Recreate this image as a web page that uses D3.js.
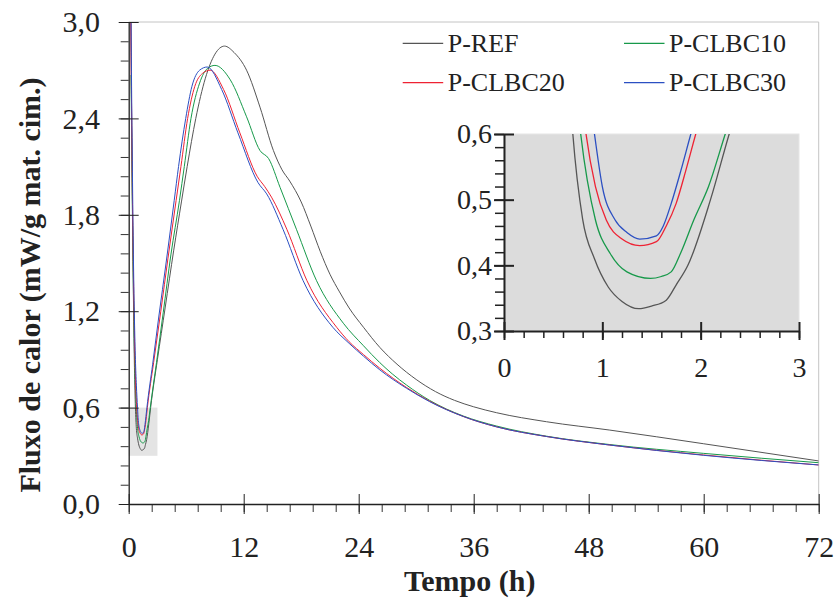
<!DOCTYPE html>
<html>
<head>
<meta charset="UTF-8">
<style>
  body { margin: 0; background: #fff; }
  svg { display: block; font-family: "Liberation Serif", serif; }
</style>
</head>
<body>
<svg id="chart" width="836" height="598"></svg>
<script src="https://d3js.org/d3.v7.min.js"></script>
<script>
// Fluxo de calor: [tempo (h), mW/g]
const refData = [[0.05, 4.5], [0.2, 3.2], [0.3, 2.45], [0.4, 1.8], [0.5, 1.25], [0.6, 0.85], [0.7, 0.6],
  [0.8, 0.47], [0.92, 0.41], [1.06, 0.367], [1.2, 0.345], [1.37, 0.334], [1.5, 0.338], [1.65, 0.347],
  [1.75, 0.37], [1.87, 0.40], [2.1, 0.50], [2.29, 0.60], [3.0, 0.9], [3.8, 1.22], [4.7, 1.58],
  [5.5, 1.88], [6.1, 2.1], [7.0, 2.4], [8.0, 2.65], [9.0, 2.8], [10.0, 2.85], [11.0, 2.81],
  [12.3, 2.7], [13.7, 2.47], [15.1, 2.2], [16.0, 2.08], [16.8, 2.01], [18.0, 1.88], [19.0, 1.73],
  [20.0, 1.57], [21.0, 1.43], [22.0, 1.32], [23.0, 1.22], [24.5, 1.1], [26.2, 0.975], [28.0, 0.87],
  [30.0, 0.775], [32.0, 0.70], [34.0, 0.645], [36.0, 0.605], [38.4, 0.568], [43.6, 0.512], [50.2, 0.46],
  [60, 0.375], [72, 0.268]];

const clbc10Data = [[0.24, 2.67], [0.32, 2.2], [0.4, 1.75], [0.5, 1.3], [0.6, 0.95], [0.7, 0.72],
  [0.78, 0.6], [0.93, 0.469], [1.08, 0.418], [1.25, 0.39], [1.49, 0.38], [1.6, 0.383], [1.7, 0.39],
  [1.8, 0.42], [1.93, 0.469], [2.08, 0.52], [2.25, 0.6], [2.9, 0.88], [3.6, 1.19], [4.4, 1.55],
  [5.3, 1.89], [5.8, 2.1], [6.5, 2.4], [7.4, 2.62], [8.2, 2.71], [9.0, 2.73], [10.6, 2.64],
  [12.3, 2.41], [13.7, 2.2], [14.6, 2.15], [15.8, 1.97], [17.5, 1.71], [19.6, 1.39], [22.4, 1.125],
  [24.5, 0.985], [26.2, 0.88], [27.5, 0.81], [29.0, 0.74], [31.4, 0.645], [34.9, 0.548], [38.4, 0.485],
  [43.6, 0.422], [50.2, 0.37], [60, 0.315], [72, 0.257]];

const clbc20Data = [[0.05, 4.5], [0.2, 3.2], [0.3, 2.45], [0.4, 1.85], [0.5, 1.4], [0.6, 1.05], [0.7, 0.8],
  [0.834, 0.6], [0.93, 0.52], [1.04, 0.469], [1.2, 0.44], [1.38, 0.43], [1.55, 0.436], [1.65, 0.46],
  [1.75, 0.494], [1.85, 0.545], [1.95, 0.6], [2.6, 0.88], [3.35, 1.2], [4.1, 1.53], [4.95, 1.89],
  [5.45, 2.1], [6.15, 2.4], [6.9, 2.6], [7.7, 2.68], [8.5, 2.7], [9.9, 2.58], [11.6, 2.31], [13.4, 2.04],
  [14.2, 1.975], [14.9, 1.91], [16.5, 1.71], [18.6, 1.39], [21.7, 1.1], [23.0, 1.01], [24.5, 0.93],
  [26.2, 0.845], [29.0, 0.725], [31.4, 0.64], [34.9, 0.545], [38.4, 0.48], [43.6, 0.42], [50.2, 0.367],
  [60, 0.305], [72, 0.243]];

const clbc30Data = [[0.05, 4.5], [0.2, 3.4], [0.3, 2.6], [0.4, 2.0], [0.5, 1.5], [0.6, 1.15], [0.7, 0.9],
  [0.8, 0.74], [0.92, 0.6], [1.0, 0.52], [1.13, 0.469], [1.25, 0.45], [1.38, 0.44], [1.55, 0.445],
  [1.62, 0.46], [1.7, 0.494], [1.8, 0.545], [1.9, 0.6], [2.5, 0.87], [3.15, 1.17], [3.9, 1.5],
  [4.75, 1.89], [5.2, 2.1], [5.95, 2.4], [6.6, 2.6], [7.4, 2.7], [8.2, 2.72], [9.7, 2.58], [11.4, 2.31],
  [13.5, 2.0], [14.4, 1.93], [16.1, 1.71], [18.2, 1.39], [21.3, 1.1], [23.0, 1.0], [24.5, 0.92],
  [26.2, 0.835], [29.0, 0.72], [31.4, 0.637], [34.9, 0.545], [38.4, 0.48], [43.6, 0.42], [50.2, 0.367],
  [60, 0.303], [72, 0.243]];

const seriesNames = ["P-REF", "P-CLBC10", "P-CLBC20", "P-CLBC30"];
const seriesColors = ["#555555", "#17994a", "#ee2233", "#2b4fc2"];
const seriesData = [refData, clbc10Data, clbc20Data, clbc30Data];

const xTicks = [0, 12, 24, 36, 48, 60, 72];
const yTicks = [0, 0.6, 1.2, 1.8, 2.4, 3.0];
const insetXTicks = [0, 1, 2, 3];
const insetYTicks = [0.3, 0.4, 0.5, 0.6];

const svg = d3.select("#chart");
const fmt = d3.formatLocale({decimal: ",", thousands: ".", grouping: [3], currency: ["", ""]}).format(".1f");

// main scales
const x = d3.scaleLinear().domain([0, 72]).range([128.7, 818.7]);
const y = d3.scaleLinear().domain([0, 3]).range([504, 22]);

// frame (top and right light gray)
svg.append("path")
    .attr("d", `M${x(0)},${y(3)}H${x(72)}V${y(0)}`)
    .attr("fill", "none").attr("stroke", "#c4c4c4").attr("stroke-width", 1);

// zoom box marking inset area
svg.append("rect")
    .attr("x", x(0)).attr("y", y(0.6))
    .attr("width", x(3) - x(0)).attr("height", y(0.3) - y(0.6))
    .attr("fill", "#e4e4e4");

svg.append("clipPath").attr("id", "clipMain")
    .append("rect").attr("x", x(0)).attr("y", y(3))
    .attr("width", x(72) - x(0)).attr("height", y(0) - y(3));

const line = d3.line().x(d => x(d[0])).y(d => y(d[1])).curve(d3.curveMonotoneX);

svg.append("g").attr("clip-path", "url(#clipMain)")
    .selectAll("path")
    .data(seriesData)
    .enter()
    .append("path")
    .attr("d", line)
    .attr("fill", "none")
    .attr("stroke", (d, i) => seriesColors[i])
    .attr("stroke-width", 1);

// minor ticks
svg.append("g")
    .attr("transform", `translate(0,${y(0)})`)
    .call(d3.axisBottom(x).tickValues(d3.range(0, 72.01, 2.4)).tickSize(8).tickFormat(""))
    .call(g => g.select(".domain").remove())
    .selectAll("line").attr("stroke", "#333");
svg.append("g")
    .attr("transform", `translate(${x(0)},0)`)
    .call(d3.axisLeft(y).tickValues(d3.range(0, 3.001, 0.12)).tickSize(8).tickFormat(""))
    .call(g => g.select(".domain").remove())
    .selectAll("line").attr("stroke", "#333");

// main x axis
const xAxis = svg.append("g")
    .attr("transform", `translate(0,${y(0)})`)
    .call(d3.axisBottom(x).tickValues(xTicks).tickSizeOuter(0).tickSizeInner(10).tickFormat(d3.format("d")));
xAxis.selectAll(".tick line").attr("y1", -10).attr("stroke", "#222");
xAxis.select(".domain").attr("stroke", "#222").attr("stroke-width", 1.3);
xAxis.selectAll("text").attr("y", 32).attr("font-size", 30).attr("fill", "#222")
    .attr("font-family", "Liberation Serif");

// main y axis
const yAxis = svg.append("g")
    .attr("transform", `translate(${x(0)},0)`)
    .call(d3.axisLeft(y).tickValues(yTicks).tickSizeOuter(0).tickSizeInner(10).tickFormat(fmt));
yAxis.selectAll(".tick line").attr("x1", 10).attr("stroke", "#222");
yAxis.select(".domain").attr("stroke", "#222").attr("stroke-width", 1.3);
yAxis.selectAll("text").attr("x", -28.7).attr("font-size", 30).attr("fill", "#222")
    .attr("font-family", "Liberation Serif");

// axis titles
svg.append("text")
    .attr("x", (x(0) + x(72)) / 2 - 4).attr("y", 591)
    .attr("text-anchor", "middle")
    .attr("font-size", 30).attr("font-weight", "bold").attr("fill", "#222")
    .text("Tempo (h)");
svg.append("text")
    .attr("transform", "translate(40,285) rotate(-90)")
    .attr("text-anchor", "middle")
    .attr("font-size", 30).attr("font-weight", "bold").attr("fill", "#222")
    .text("Fluxo de calor (mW/g mat. cim.)");

// legend
const legend = svg.append("g").selectAll("g")
    .data(seriesNames)
    .enter()
    .append("g")
    .attr("transform", (d, i) => `translate(${402.7 + (i % 2) * 221.3},${43.3 + Math.floor(i / 2) * 39.4})`);
legend.append("line")
    .attr("x1", 0).attr("x2", 40.5)
    .attr("stroke", (d, i) => seriesColors[i]).attr("stroke-width", 1.2);
legend.append("text")
    .attr("x", 45).attr("y", 8.7)
    .attr("font-size", 26).attr("fill", "#222")
    .text(d => d);

// inset
const xi = d3.scaleLinear().domain([0, 3]).range([504, 799]);
const yi = d3.scaleLinear().domain([0.3, 0.6]).range([331, 134]);

svg.append("rect")
    .attr("x", xi(0)).attr("y", yi(0.6))
    .attr("width", xi(3) - xi(0)).attr("height", yi(0.3) - yi(0.6))
    .attr("fill", "#dcdcdc").attr("stroke", "#e6e6e6").attr("stroke-width", 1);

svg.append("clipPath").attr("id", "clipInset")
    .append("rect").attr("x", xi(0)).attr("y", yi(0.6))
    .attr("width", xi(3) - xi(0)).attr("height", yi(0.3) - yi(0.6));

const lineInset = d3.line().x(d => xi(d[0])).y(d => yi(d[1])).curve(d3.curveMonotoneX);

svg.append("g").attr("clip-path", "url(#clipInset)")
    .selectAll("path")
    .data(seriesData)
    .enter()
    .append("path")
    .attr("d", lineInset)
    .attr("fill", "none")
    .attr("stroke", (d, i) => seriesColors[i])
    .attr("stroke-width", 1.3);

svg.append("g")
    .attr("transform", `translate(0,${yi(0.3)})`)
    .call(d3.axisBottom(xi).tickValues(d3.range(0, 3.001, 0.2)).tickSize(7).tickFormat(""))
    .call(g => g.select(".domain").remove())
    .selectAll("line").attr("stroke", "#222").attr("stroke-width", 1.5);
svg.append("g")
    .attr("transform", `translate(${xi(0)},0)`)
    .call(d3.axisLeft(yi).tickValues(d3.range(0.3, 0.6001, 0.02)).tickSize(9).tickFormat(""))
    .call(g => g.select(".domain").remove())
    .selectAll("line").attr("stroke", "#222").attr("stroke-width", 1.5);

const xiAxis = svg.append("g")
    .attr("transform", `translate(0,${yi(0.3)})`)
    .call(d3.axisBottom(xi).tickValues(insetXTicks).tickSizeOuter(0).tickSizeInner(9).tickFormat(d3.format("d")));
xiAxis.selectAll(".tick line").attr("y1", -9).attr("stroke", "#222").attr("stroke-width", 2);
xiAxis.select(".domain").attr("stroke", "#222").attr("stroke-width", 2);
xiAxis.selectAll("text").attr("y", 26).attr("font-size", 28).attr("fill", "#222")
    .attr("font-family", "Liberation Serif");

const yiAxis = svg.append("g")
    .attr("transform", `translate(${xi(0)},0)`)
    .call(d3.axisLeft(yi).tickValues(insetYTicks).tickSizeOuter(0).tickSizeInner(10).tickFormat(fmt));
yiAxis.selectAll(".tick line").attr("x1", 10).attr("stroke", "#222").attr("stroke-width", 2);
yiAxis.select(".domain").attr("stroke", "#222").attr("stroke-width", 2);
yiAxis.selectAll("text").attr("x", -12).attr("font-size", 28).attr("fill", "#222")
    .attr("font-family", "Liberation Serif");
</script>
</body>
</html>
